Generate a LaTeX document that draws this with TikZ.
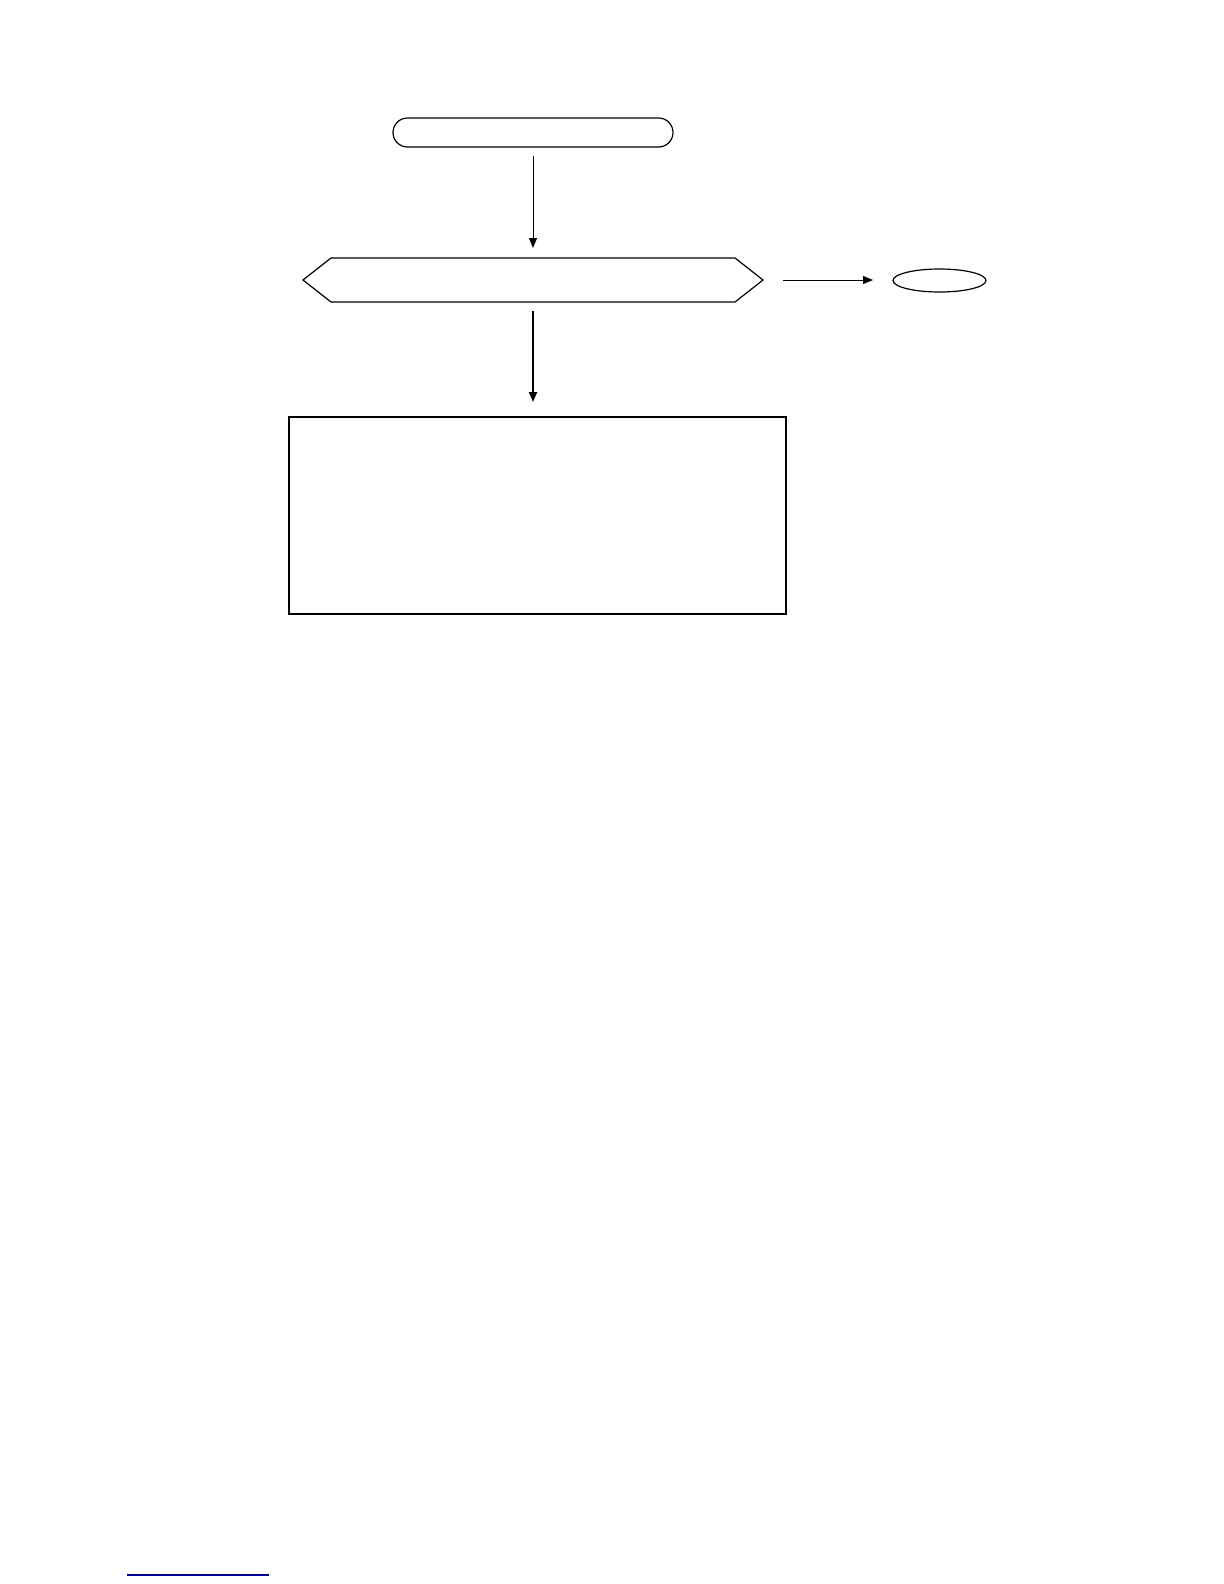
\documentclass[tikz,border=0pt]{standalone}
\usetikzlibrary{arrows.meta,shapes.geometric}

\begin{document}
\begin{tikzpicture}[x=0.5bp,y=-0.5bp,
	box/.style={draw,line width=0.6bp,inner sep=0pt,outer sep=0pt},
	flow/.style={line width=0.5bp,-{Triangle[length=5bp,width=4bp]}}]
			\useasboundingbox (0,0) rectangle (1224,1584);
			\node[box,rounded corners=7.25bp,minimum width=140bp,minimum height=14.5bp] (start) at (533,132.5) {};
			\node[inner sep=0pt,outer sep=0pt,minimum width=230bp,minimum height=22bp] (check) at (533,280) {};
			\draw[line width=0.6bp] (check.west) -- ([xshift=14bp]check.north west) -- ([xshift=-14bp]check.north east) -- (check.east) -- ([xshift=-14bp]check.south east) -- ([xshift=14bp]check.south west) -- cycle;
			\node[box,ellipse,minimum width=46.5bp,minimum height=11.5bp] (stop) at (939.5,280.5) {};
			\node[box,line width=0.75bp,minimum width=248.5bp,minimum height=98.5bp] (task) at (537.5,515.5) {};
				\draw[flow,shorten <=4.5bp,shorten >=5bp] (start.south) -- (start.south |- check.north);
				\draw[flow,line width=1bp,shorten <=4.5bp,shorten >=7.5bp] (check.south) -- (check.south |- task.north);
				\draw[flow,shorten <=10bp,shorten >=10bp] (check.east) -- (stop.west |- check.east);
			\draw[line width=0.75bp,color={rgb,255:red,0;green,0;blue,150}] (127,1575) -- (269,1575);
		\end{tikzpicture}
\end{document}
